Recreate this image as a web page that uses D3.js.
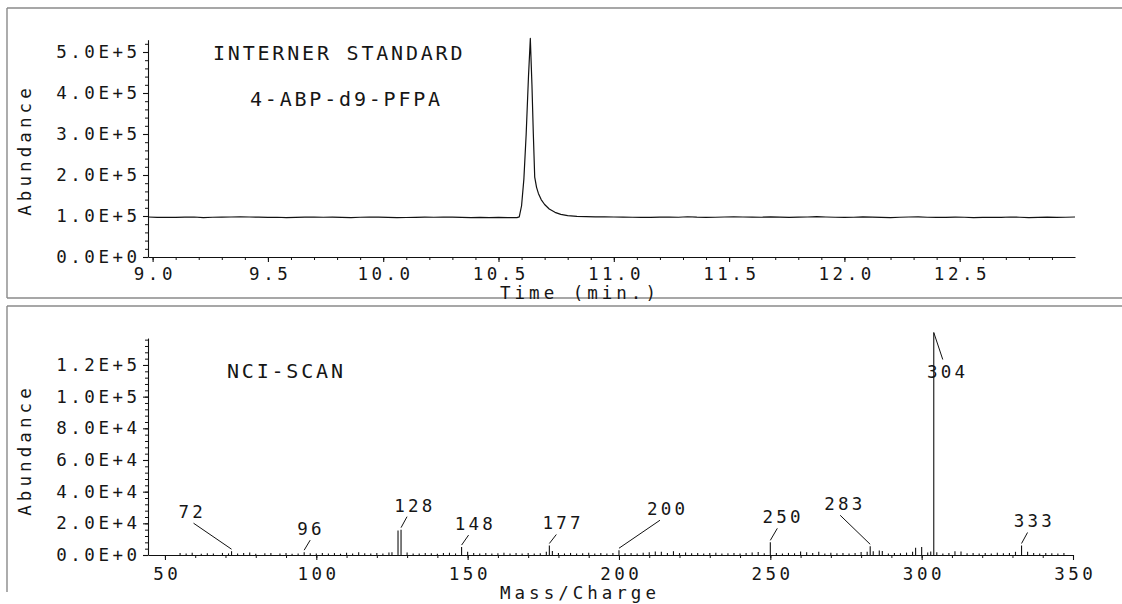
<!DOCTYPE html>
<html><head><meta charset="utf-8">
<script src="https://cdn.jsdelivr.net/npm/d3@7"></script>
<style>
html,body{margin:0;padding:0;background:#fff;}
svg{display:block;}
text{font-family:"DejaVu Sans Mono",monospace;fill:#161616;}
</style></head><body>
<svg id="c" width="1122" height="604"></svg>
<script>
// ---------- DATA ----------
// Top: chromatogram (Abundance vs Time, min)
const baseStartPre = 8.98, baseStep = 0.04;
const baselinePre = [0.975,0.965,0.97,0.968,0.972,0.975,0.962,0.97,0.973,0.976,0.978,0.975,0.972,0.968,0.97,0.96,0.966,0.972,0.975,0.97,0.973,0.968,0.962,0.97,0.975,0.972,0.966,0.962,0.964,0.968,0.972,0.97,0.975,0.972,0.966,0.962,0.968,0.958,0.966,0.962,0.96];
const peakTimes  = [10.58,10.59,10.60,10.61,10.62,10.63,10.638,10.645,10.651,10.657,10.665,10.673,10.685,10.70,10.72,10.745,10.77,10.80];
const peakValues = [0.962,0.98,1.25,1.9,3.0,4.4,5.33,4.2,3.0,1.95,1.7,1.55,1.4,1.28,1.17,1.09,1.04,1.01];
const baseStartPost = 10.84;
const baselinePost = [0.99,0.985,0.98,0.978,0.975,0.972,0.97,0.966,0.968,0.972,0.975,0.97,0.982,0.972,0.968,0.97,0.975,0.978,0.975,0.972,0.97,0.98,0.974,0.968,0.972,0.976,0.984,0.975,0.97,0.966,0.97,0.978,0.972,0.968,0.962,0.97,0.975,0.978,0.97,0.966,0.968,0.972,0.97,0.96,0.965,0.97,0.968,0.975,0.97,0.962,0.968,0.972,0.966,0.97,0.975];
const chromUnit = 1e5;

// Bottom: mass spectrum (Abundance vs m/z), values in units of 1E+3
const masses = [55,57,59,62,64,66,69,71,72,74,76,78,80,83,85,88,90,92,94,96,98,100,102,104,106,108,110,112,114,116,118,120,122,124,125,127,128,130,132,134,136,138,140,142,144,146,148,150,152,154,156,158,160,162,164,166,168,170,172,174,176,177,178,180,182,184,186,188,190,192,194,196,198,200,202,204,206,208,210,212,214,216,218,220,222,224,226,228,230,232,234,236,238,240,242,244,246,248,250,252,254,256,258,260,262,264,266,268,270,272,274,276,278,280,282,283,284,286,287,289,291,293,295,297,298,300,302,303,304,305,307,309,311,313,315,317,319,321,323,325,327,329,331,333,335,337,339,341,343,345,347];
const intensities = [1.2,0.9,1.4,0.8,1.1,0.9,1.3,1.0,2.4,0.9,1.2,1.5,0.8,1.1,1.3,0.9,1.2,0.8,1.0,1.8,1.1,0.9,1.3,1.0,1.2,0.8,1.4,1.0,1.8,1.1,0.9,1.2,1.0,1.5,1.8,15.5,16.0,1.5,1.0,0.9,1.3,1.1,0.8,1.2,1.4,1.0,5.0,2.0,1.2,1.0,1.3,0.9,1.1,1.4,1.0,1.2,0.9,1.3,1.0,1.1,2.0,6.0,2.5,1.2,1.0,1.3,0.9,1.1,1.4,1.0,1.2,0.9,1.3,3.0,1.1,1.2,1.0,1.4,1.8,2.2,2.0,1.3,2.4,1.2,1.5,1.1,1.3,1.0,1.2,1.4,1.0,1.1,1.3,1.0,1.2,1.5,1.9,1.1,8.0,1.2,1.0,1.3,1.1,2.2,1.8,1.2,2.0,1.0,1.4,1.1,1.3,1.0,1.2,1.9,2.0,5.5,2.4,2.8,2.6,1.0,1.2,1.1,1.5,2.0,4.5,5.0,1.6,2.2,140.5,1.8,1.0,1.3,2.4,2.2,1.1,1.3,1.0,1.2,1.0,1.4,1.1,1.3,2.0,6.0,2.0,1.3,1.0,1.2,1.1,1.0,1.2];
const specUnit = 1e3;
const labelledMasses = [72,96,128,148,177,200,250,283,304,333];

// Tick values
const topYTicks = [0,1e5,2e5,3e5,4e5,5e5];
const topXTicks = [9.0,9.5,10.0,10.5,11.0,11.5,12.0,12.5];
const botYTicks = [0,2e4,4e4,6e4,8e4,1e5,1.2e5];
const botXTicks = [50,100,150,200,250,300,350];

const titles = {top1:"INTERNER STANDARD", top2:"4-ABP-d9-PFPA", bot:"NCI-SCAN",
  xTop:"Time (min.)", xBot:"Mass/Charge", y:"Abundance"};

// ---------- LAYOUT ----------
const svg = d3.select("#c");
const TS = 17.5, TL = 3.5;      // tick font size / letter spacing
const HS = 20, HL = 2.8;        // heading font
const sci = v => {
  if (v === 0) return "0.0E+0";
  const e = Math.floor(Math.log10(v) + 1e-9);
  return (v / Math.pow(10, e)).toFixed(1) + "E+" + e;
};
const fmtX1 = d => d.toFixed(1);

// frames
const frame = svg.append("g").attr("stroke", "#8a8a8a").attr("stroke-width", 1.4).attr("fill", "none");
frame.append("path").attr("d", "M7,8H1122M7,8V298M7,298H1122M7,306H1122M7,306V592");

// ----- top panel -----
const xT = d3.scaleLinear().domain([8.98, 13.0]).range([148, 1075]);
const yT = d3.scaleLinear().domain([0, 5.3e5]).range([257, 257 - 5.3 * 41]);

function styleTicks(g) {
  g.selectAll("text").attr("font-size", TS).attr("letter-spacing", TL).attr("fill", "#161616");
  g.selectAll("line,path").attr("stroke", "#111").attr("stroke-width", 1.1);
}

// minor x ticks top
const gTxm = svg.append("g").attr("transform", `translate(0,${yT(0)})`)
  .call(d3.axisBottom(xT).tickValues(d3.range(9.0, 13.0, 0.1)).tickSize(3).tickFormat(""));
gTxm.select(".domain").remove();
gTxm.selectAll("line").attr("stroke", "#111");
const gTx = svg.append("g").attr("transform", `translate(0,${yT(0)})`)
  .call(d3.axisBottom(xT).tickValues(topXTicks).tickSize(5).tickSizeOuter(0).tickPadding(6).tickFormat(fmtX1));
styleTicks(gTx);
gTx.selectAll("text").attr("dx", TL / 2);

const gTym = svg.append("g").attr("transform", `translate(${xT.range()[0]},0)`)
  .call(d3.axisLeft(yT).tickValues(d3.range(0, 5.21e5, 2e4)).tickSize(3).tickFormat(""));
gTym.select(".domain").remove();
gTym.selectAll("line").attr("stroke", "#111");
const gTy = svg.append("g").attr("transform", `translate(${xT.range()[0]},0)`)
  .call(d3.axisLeft(yT).tickValues(topYTicks).tickSize(5).tickSizeOuter(0).tickPadding(6).tickFormat(sci));
styleTicks(gTy);
gTy.selectAll("text").attr("dx", TL);

// chromatogram series
const chrom = [];
baselinePre.forEach((v, i) => chrom.push([baseStartPre + i * baseStep, v * chromUnit]));
peakTimes.forEach((t, i) => chrom.push([t, peakValues[i] * chromUnit]));
baselinePost.forEach((v, i) => chrom.push([baseStartPost + i * baseStep, v * chromUnit]));
svg.append("path").datum(chrom)
  .attr("fill", "none").attr("stroke", "#111").attr("stroke-width", 1.2).attr("stroke-linejoin", "round")
  .attr("d", d3.line().x(d => xT(d[0])).y(d => yT(d[1])).curve(d3.curveLinear));

svg.append("text").attr("x", 213).attr("y", 60).attr("font-size", HS).attr("letter-spacing", HL).text(titles.top1);
svg.append("text").attr("x", 250).attr("y", 106).attr("font-size", HS).attr("letter-spacing", HL).text(titles.top2);
svg.append("text").attr("x", 578 + 2).attr("y", 299).attr("text-anchor", "middle")
  .attr("font-size", TS).attr("letter-spacing", 4).text(titles.xTop);
svg.append("text").attr("transform", "translate(31,152) rotate(-90)").attr("text-anchor", "middle")
  .attr("dx", 2).attr("font-size", TS).attr("letter-spacing", 4.1).text(titles.y);

// ----- bottom panel -----
const xB = d3.scaleLinear().domain([44.4, 350]).range([148, 1073]);
const yB = d3.scaleLinear().domain([0, 1.37e5]).range([555, 555 - 1.37e5 / 2e4 * 31.67]);

const gBxm = svg.append("g").attr("transform", `translate(0,${yB(0)})`)
  .call(d3.axisBottom(xB).tickValues(d3.range(50, 351, 10)).tickSize(3).tickFormat(""));
gBxm.select(".domain").remove();
gBxm.selectAll("line").attr("stroke", "#111");
const gBx = svg.append("g").attr("transform", `translate(0,${yB(0)})`)
  .call(d3.axisBottom(xB).tickValues(botXTicks).tickSize(5).tickSizeOuter(0).tickPadding(8).tickFormat(d3.format("d")));
styleTicks(gBx);
gBx.selectAll("text").attr("dx", TL / 2);

const gBym = svg.append("g").attr("transform", `translate(${xB.range()[0]},0)`)
  .call(d3.axisLeft(yB).tickValues(d3.range(0, 1.361e5, 4e3)).tickSize(3).tickFormat(""));
gBym.select(".domain").remove();
gBym.selectAll("line").attr("stroke", "#111");
const gBy = svg.append("g").attr("transform", `translate(${xB.range()[0]},0)`)
  .call(d3.axisLeft(yB).tickValues(botYTicks).tickSize(5).tickSizeOuter(0).tickPadding(6).tickFormat(sci));
styleTicks(gBy);
gBy.selectAll("text").attr("dx", TL);

const spec = masses.map((m, i) => ({m, v: intensities[i] * specUnit}));
svg.append("g").attr("stroke", "#111").attr("stroke-width", 1.1)
  .selectAll("line").data(spec).join("line")
  .attr("x1", d => xB(d.m)).attr("x2", d => xB(d.m))
  .attr("y1", yB(0)).attr("y2", d => yB(d.v));

// peak annotations (leader offsets in px: [dx, dy, textShift])
const leaderLayout = {72:[-38,-26,-3],96:[6,-10,-1],128:[6,-11,6],148:[7,-10,5],177:[7,-9,5],
  200:[41,-28,6],250:[7,-12,4],283:[-30,-29,3],304:[9,27,3],333:[6,-11,5]};
const ann = svg.append("g");
labelledMasses.forEach(m => {
  const d = spec.find(s => s.m === m);
  const [lx, ly, tx] = leaderLayout[m];
  const ex = xB(m), ey = yB(d.v) - (ly > 0 ? 0 : 2);
  const sx = ex + lx, sy = ey + ly;
  ann.append("line").attr("x1", ex).attr("y1", ey).attr("x2", sx).attr("y2", sy)
    .attr("stroke", "#111").attr("stroke-width", 1);
  ann.append("text").attr("x", sx + tx + TL / 2).attr("y", ly > 0 ? sy + 18 : sy - 5)
    .attr("text-anchor", "middle").attr("font-size", TS).attr("letter-spacing", TL - 0.3).text(String(m));
});

svg.append("text").attr("x", 227).attr("y", 378).attr("font-size", HS).attr("letter-spacing", HL).text(titles.bot);
svg.append("text").attr("x", 578 + 2).attr("y", 599).attr("text-anchor", "middle")
  .attr("font-size", TS).attr("letter-spacing", 4).text(titles.xBot);
svg.append("text").attr("transform", "translate(31,452) rotate(-90)").attr("text-anchor", "middle")
  .attr("dx", 2).attr("font-size", TS).attr("letter-spacing", 4.1).text(titles.y);
</script></body></html>
